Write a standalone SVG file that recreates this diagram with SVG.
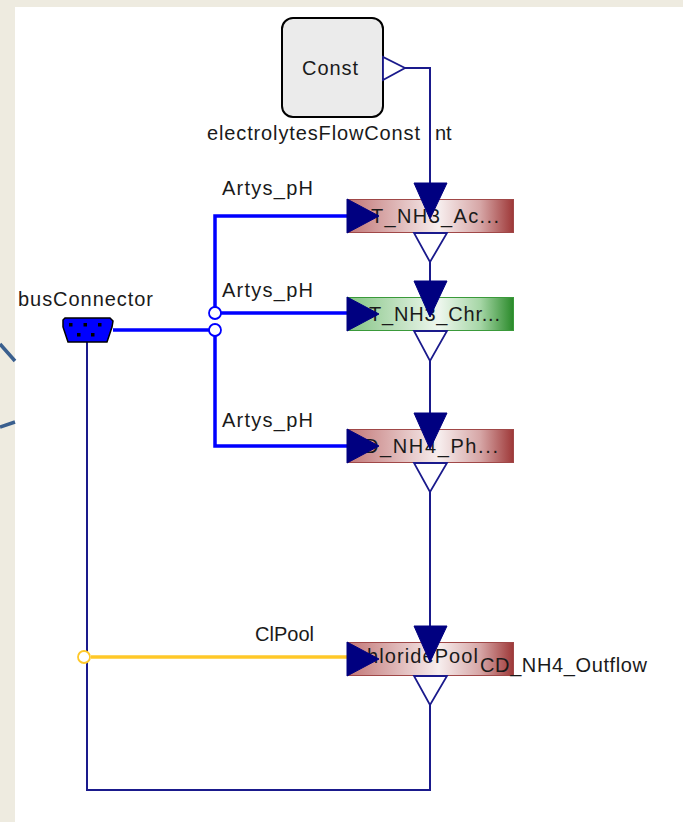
<svg xmlns="http://www.w3.org/2000/svg" width="683" height="822" viewBox="0 0 683 822">
<defs>
<linearGradient id="gRed" x1="0" y1="0" x2="1" y2="0">
<stop offset="0" stop-color="#C27676"/>
<stop offset="0.55" stop-color="#F7EEEE"/>
<stop offset="0.8" stop-color="#D6A6A6"/>
<stop offset="1" stop-color="#9E3838"/>
</linearGradient>
<linearGradient id="gGreen" x1="0" y1="0" x2="1" y2="0">
<stop offset="0" stop-color="#84C484"/>
<stop offset="0.55" stop-color="#EEF7EE"/>
<stop offset="0.8" stop-color="#A6D6A6"/>
<stop offset="1" stop-color="#2A8A2A"/>
</linearGradient>
<style>
text{font-family:"Liberation Sans",Arial,sans-serif;fill:#1a1a1a}
.lbl{font-size:20px}
.blk{font-size:20px}
.nv{fill:none;stroke:#1A1A8C;stroke-width:2}
.bus{fill:none;stroke:#0000FF;stroke-width:3.5}
.tin{fill:#000080;stroke:#000080;stroke-width:1}
.tout{fill:#FFFFFF;stroke:#1A1A8C;stroke-width:1.8}
.red{fill:url(#gRed);stroke:#A04848;stroke-width:1}
.grn{fill:url(#gGreen);stroke:#3A9A3A;stroke-width:1}
</style>
</defs>
<rect x="0" y="0" width="683" height="822" fill="#EEEBE0"/>
<rect x="15" y="7" width="668" height="815" fill="#FFFFFF"/>
<path d="M0,344 L15,361 M0,427 L15,422" fill="none" stroke="#3A5F8E" stroke-width="3.5"/>

<g id="connectors">
<path class="nv" d="M405,68 H430 V184"/>
<path class="nv" d="M430,262 V282"/>
<path class="nv" d="M430,361 V414"/>
<path class="nv" d="M430,492 V627"/>
<path class="nv" d="M430,705 V790 H87 V342"/>
<path class="bus" d="M113,330 H209 M215,336 V446 H348 M215,307 V216 H348 M221,313 H348"/>
<line x1="91" y1="657" x2="348" y2="657" stroke="#FFC828" stroke-width="3.5"/>
<circle cx="215" cy="313" r="6" fill="#FFFFFF" stroke="#0000FF" stroke-width="1.8"/>
<circle cx="215" cy="330" r="6" fill="#FFFFFF" stroke="#0000FF" stroke-width="1.8"/>
<circle cx="84" cy="657" r="6" fill="#FFFFFF" stroke="#FFC828" stroke-width="1.8"/>
<text class="lbl" x="222" y="195" textLength="91" lengthAdjust="spacing">Artys_pH</text>
<text class="lbl" x="222" y="297" textLength="91" lengthAdjust="spacing">Artys_pH</text>
<text class="lbl" x="222" y="427" textLength="91" lengthAdjust="spacing">Artys_pH</text>
<text class="lbl" x="255" y="641" textLength="59" lengthAdjust="spacing">ClPool</text>
</g>

<g id="const">
<rect x="282" y="18" width="101" height="99" rx="11" fill="#EBEBEB" stroke="#000000" stroke-width="2"/>
<text class="lbl" x="302" y="75" textLength="56" lengthAdjust="spacing">Const</text>
<polygon class="tout" points="383,57 383,80 405,68"/>
<text class="lbl" y="140"><tspan x="207" textLength="213" lengthAdjust="spacing">electrolytesFlowConst</tspan> <tspan x="435">nt</tspan></text>
</g>

<g id="busConnector">
<text class="lbl" x="18" y="306" textLength="135" lengthAdjust="spacing">busConnector</text>
<path d="M63,320 L65,318 L110,318 L113,321 L112,327 L107,342 L68,342 L63,327 Z" fill="#0000FF" stroke="#000000" stroke-width="1.5"/>
<g fill="#000000">
<rect x="69" y="323" width="3.5" height="3.5"/>
<rect x="83.5" y="323" width="3.5" height="3.5"/>
<rect x="98" y="323" width="3.5" height="3.5"/>
<rect x="77" y="333" width="3.5" height="3.5"/>
<rect x="91" y="333" width="3.5" height="3.5"/>
</g>
</g>

<g id="block1">
<rect class="red" x="347.5" y="199.5" width="166" height="33"/>
<text class="blk" x="371" y="223" textLength="128" lengthAdjust="spacing">T_NH3_Ac...</text>
<polygon class="tin" points="347,199 347,233 379,216"/>
<polygon class="tin" points="414,183 447,183 430,219"/>
<polygon class="tout" points="414,233 447,233 430,262"/>
</g>

<g id="block2">
<rect class="grn" x="347.5" y="297.5" width="166" height="33"/>
<text class="blk" x="369" y="321" textLength="131" lengthAdjust="spacing">T_NH3_Chr...</text>
<polygon class="tin" points="347,297 347,331 379,314"/>
<polygon class="tin" points="414,281 447,281 430,317"/>
<polygon class="tout" points="414,331 447,331 430,361"/>
</g>

<g id="block3">
<rect class="red" x="347.5" y="429.5" width="166" height="33"/>
<text class="blk" x="364" y="453" textLength="134" lengthAdjust="spacing">D_NH4_Ph...</text>
<polygon class="tin" points="347,429 347,463 379,446"/>
<polygon class="tin" points="414,413 447,413 430,449"/>
<polygon class="tout" points="414,463 447,463 430,492"/>
</g>

<g id="block4">
<rect class="red" x="347.5" y="642.5" width="166" height="33"/>
<text class="blk" x="367" y="663" textLength="111" lengthAdjust="spacing">hloridePool</text>
<polygon class="tin" points="347,642 347,676 379,659"/>
<polygon class="tin" points="414,626 447,626 430,662"/>
<polygon class="tout" points="414,676 447,676 430,705"/>
<text class="lbl" x="480" y="672" textLength="167" lengthAdjust="spacing">CD_NH4_Outflow</text>
</g>
</svg>
